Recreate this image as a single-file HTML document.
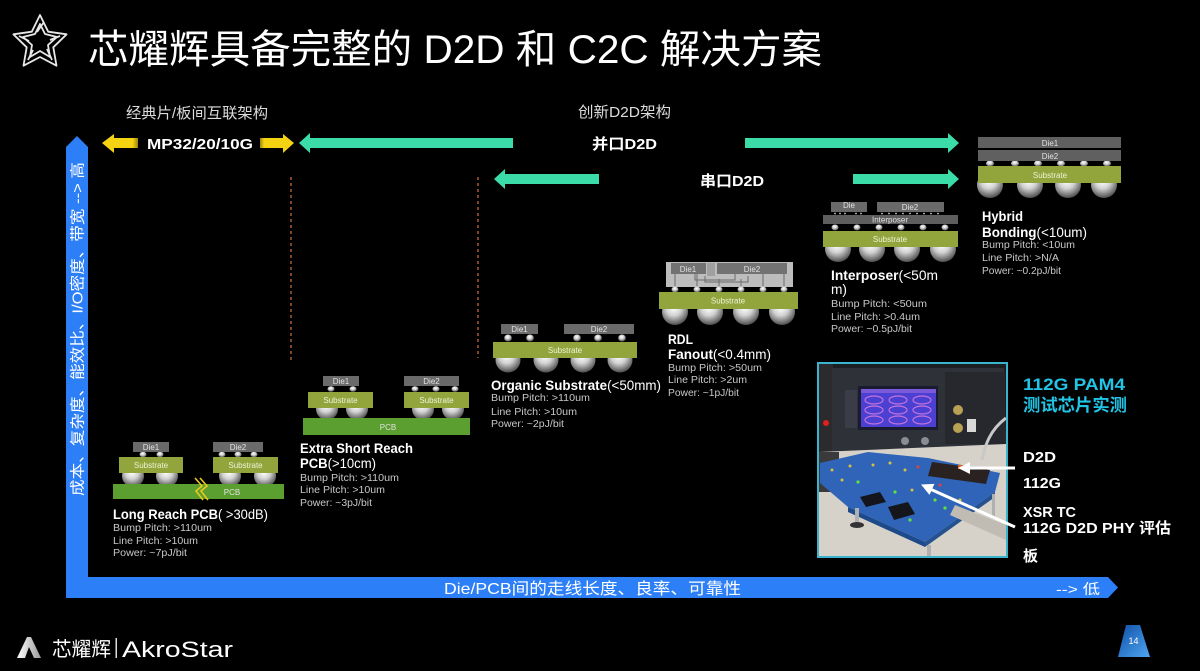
<!DOCTYPE html>
<html><head><meta charset="utf-8">
<style>
html,body{margin:0;padding:0;background:#000;}
svg{display:block;}
text{font-family:"Liberation Sans","Noto Sans CJK SC",sans-serif;}
.s{font-size:10px;fill:#c8c8c8;}
.b{font-size:14px;fill:#fff;font-weight:bold;}
.n{font-weight:normal;}
.dl{font-size:8px;fill:#e2e2e2;text-anchor:middle;}
.sl{font-size:8px;fill:#eef2d6;text-anchor:middle;}
</style></head><body>
<svg width="1200" height="671" viewBox="0 0 1200 671" xmlns="http://www.w3.org/2000/svg">
<defs>
<radialGradient id="ball" cx="0.45" cy="0.35" r="0.65">
<stop offset="0" stop-color="#ffffff"/><stop offset="0.45" stop-color="#d2d2d2"/><stop offset="1" stop-color="#4e4e4e"/>
</radialGradient>
<linearGradient id="pg" x1="0" y1="0" x2="1" y2="1">
<stop offset="0" stop-color="#0f4fa8"/><stop offset="1" stop-color="#4fa6f0"/>
</linearGradient>
<linearGradient id="lg" x1="0" y1="0" x2="1" y2="0">
<stop offset="0" stop-color="#ffffff"/><stop offset="1" stop-color="#9a9a9a"/>
</linearGradient>
<linearGradient id="yl" x1="0" y1="0" x2="1" y2="0">
<stop offset="0" stop-color="#f5d312"/><stop offset="0.85" stop-color="#f5d312"/><stop offset="1" stop-color="#9a8410"/>
</linearGradient>
<linearGradient id="yr" x1="0" y1="0" x2="1" y2="0">
<stop offset="0" stop-color="#9a8410"/><stop offset="0.12" stop-color="#f5d312"/><stop offset="1" stop-color="#f5d312"/>
</linearGradient>
<clipPath id="ph"><rect x="819" y="364" width="187" height="192"/></clipPath>
</defs>
<rect width="1200" height="671" fill="#000"/>

<!-- star logo -->
<g fill="none" stroke="#e8e8e8" stroke-width="1.8" stroke-linejoin="round">
<path d="M40,15 L48.2,31.7 L66.6,34.3 L53.3,47.3 L56.5,65.7 L40,57 L23.5,65.7 L26.7,47.3 L13.4,34.3 L31.8,31.7 Z"/>
<path d="M40,24 L45,34 L57,37 L48,45 L50,57 L40,51 L30,57 L32,45 L23,37 L35,34 Z"/>
<line x1="44" y1="22" x2="37" y2="32"/><line x1="60" y1="36" x2="50" y2="40"/><line x1="52" y1="60" x2="47" y2="49"/><line x1="28" y1="60" x2="33" y2="50"/><line x1="19" y1="36" x2="29" y2="41"/>
</g>

<!-- title -->
<text x="88" y="63" font-size="40" fill="#fff" textLength="734" lengthAdjust="spacingAndGlyphs">芯耀辉具备完整的 D2D 和 C2C 解决方案</text>

<!-- top labels -->
<text x="126" y="118" font-size="15" fill="#dcdcdc" textLength="142" lengthAdjust="spacingAndGlyphs">经典片/板间互联架构</text>
<text x="578" y="117" font-size="15" fill="#dcdcdc" textLength="93" lengthAdjust="spacingAndGlyphs">创新D2D架构</text>

<!-- arrows -->
<polygon points="102,143 114,134 114,138 138,138 138,148 114,148 114,153" fill="url(#yl)"/>
<polygon points="260,138 283,138 283,134 294,143 283,153 283,148 260,148" fill="url(#yr)"/>
<text x="147" y="149" font-size="15" font-weight="bold" fill="#fff" textLength="106" lengthAdjust="spacingAndGlyphs">MP32/20/10G</text>
<polygon points="299,143 310,133 310,138 513,138 513,148 310,148 310,153" fill="#3cdca8"/>
<text x="592" y="149" font-size="15" font-weight="bold" fill="#fff" textLength="65" lengthAdjust="spacingAndGlyphs">并口D2D</text>
<polygon points="745,138 948,138 948,133 959,143 948,153 948,148 745,148" fill="#3cdca8"/>
<polygon points="494,179 505,169 505,174 599,174 599,184 505,184 505,189" fill="#3cdca8"/>
<text x="700" y="186" font-size="15" font-weight="bold" fill="#fff" textLength="64" lengthAdjust="spacingAndGlyphs">串口D2D</text>
<polygon points="853,174 948,174 948,169 959,179 948,189 948,184 853,184" fill="#3cdca8"/>

<!-- dashed lines -->
<line x1="291" y1="177" x2="291" y2="360" stroke="#d0703e" stroke-width="1.2" stroke-dasharray="3,3"/>
<line x1="478" y1="177" x2="478" y2="358" stroke="#d0703e" stroke-width="1.2" stroke-dasharray="3,3"/>

<!-- axes -->
<path d="M66,147 L77,136 L88,147 L88,577 L1108,577 L1118,587.5 L1108,598 L66,598 Z" fill="#2d7ff7"/>
<text transform="translate(82.5,496) rotate(-90)" font-size="15" fill="#fff" textLength="334" lengthAdjust="spacingAndGlyphs">成本、复杂度、能效比、I/O密度、带宽 --&gt; 高</text>
<text x="444" y="594" font-size="16" fill="#fff" textLength="297" lengthAdjust="spacingAndGlyphs">Die/PCB间的走线长度、良率、可靠性</text>
<text x="1056" y="594" font-size="14" fill="#fff" textLength="44" lengthAdjust="spacingAndGlyphs">--&gt; 低</text>

<!-- Long Reach PCB -->
<g>
<circle cx="133" cy="476" r="11" fill="url(#ball)"/><circle cx="167" cy="476" r="11" fill="url(#ball)"/>
<circle cx="230" cy="476" r="11" fill="url(#ball)"/><circle cx="265" cy="476" r="11" fill="url(#ball)"/>
<g fill="url(#ball)"><ellipse cx="143" cy="454.5" rx="3.5" ry="2.8"/><ellipse cx="160" cy="454.5" rx="3.5" ry="2.8"/>
<ellipse cx="222" cy="454.5" rx="3.5" ry="2.8"/><ellipse cx="238" cy="454.5" rx="3.5" ry="2.8"/><ellipse cx="254" cy="454.5" rx="3.5" ry="2.8"/></g>
<rect x="119" y="457" width="64" height="16" fill="#91a53c"/><text class="sl" x="151" y="468">Substrate</text>
<rect x="213" y="457" width="65" height="16" fill="#91a53c"/><text class="sl" x="245.5" y="468">Substrate</text>
<rect x="133" y="442" width="36" height="10" fill="#6a6a6a"/><text class="dl" x="151" y="450">Die1</text>
<rect x="213" y="442" width="50" height="10" fill="#6a6a6a"/><text class="dl" x="238" y="450">Die2</text>
<rect x="113" y="484" width="171" height="15" fill="#5a9f2f"/><text class="dl" x="232" y="495" font-size="7">PCB</text>
<path d="M195,478 L202,486 L196,491 L203,500 M200,478 L207,486 L201,491 L208,500" fill="none" stroke="#e8c820" stroke-width="1.6"/>
</g>
<text class="b" x="113" y="519" textLength="155" lengthAdjust="spacingAndGlyphs">Long Reach PCB<tspan class="n">( &gt;30dB)</tspan></text>
<text class="s" x="113" y="531" textLength="99" lengthAdjust="spacingAndGlyphs">Bump Pitch: &gt;110um</text>
<text class="s" x="113" y="544" textLength="85" lengthAdjust="spacingAndGlyphs">Line Pitch: &gt;10um</text>
<text class="s" x="113" y="556" textLength="74" lengthAdjust="spacingAndGlyphs">Power: ~7pJ/bit</text>

<!-- Extra Short Reach -->
<g>
<circle cx="327" cy="409" r="11" fill="url(#ball)"/><circle cx="357" cy="409" r="11" fill="url(#ball)"/>
<circle cx="423" cy="409" r="11" fill="url(#ball)"/><circle cx="453" cy="409" r="11" fill="url(#ball)"/>
<g fill="url(#ball)"><ellipse cx="331" cy="389" rx="3.5" ry="2.8"/><ellipse cx="353" cy="389" rx="3.5" ry="2.8"/>
<ellipse cx="415" cy="389" rx="3.5" ry="2.8"/><ellipse cx="436" cy="389" rx="3.5" ry="2.8"/><ellipse cx="455" cy="389" rx="3.5" ry="2.8"/></g>
<rect x="308" y="392" width="65" height="16" fill="#91a53c"/><text class="sl" x="340.5" y="403">Substrate</text>
<rect x="404" y="392" width="65" height="16" fill="#91a53c"/><text class="sl" x="436.5" y="403">Substrate</text>
<rect x="323" y="376" width="36" height="10" fill="#6a6a6a"/><text class="dl" x="341" y="384">Die1</text>
<rect x="404" y="376" width="55" height="10" fill="#6a6a6a"/><text class="dl" x="431.5" y="384">Die2</text>
<rect x="303" y="418" width="167" height="17" fill="#5a9f2f"/><text class="dl" x="388" y="430" font-size="7">PCB</text>
</g>
<text class="b" x="300" y="453" textLength="113" lengthAdjust="spacingAndGlyphs">Extra Short Reach</text>
<text class="b" x="300" y="468" textLength="76" lengthAdjust="spacingAndGlyphs">PCB<tspan class="n">(&gt;10cm)</tspan></text>
<text class="s" x="300" y="481" textLength="99" lengthAdjust="spacingAndGlyphs">Bump Pitch: &gt;110um</text>
<text class="s" x="300" y="493" textLength="85" lengthAdjust="spacingAndGlyphs">Line Pitch: &gt;10um</text>
<text class="s" x="300" y="506" textLength="72" lengthAdjust="spacingAndGlyphs">Power: ~3pJ/bit</text>

<!-- Organic Substrate -->
<g>
<circle cx="508" cy="360" r="12.5" fill="url(#ball)"/><circle cx="546" cy="360" r="12.5" fill="url(#ball)"/>
<circle cx="583" cy="360" r="12.5" fill="url(#ball)"/><circle cx="620" cy="360" r="12.5" fill="url(#ball)"/>
<g fill="url(#ball)"><ellipse cx="508" cy="338" rx="3.8" ry="3.5"/><ellipse cx="530" cy="338" rx="3.8" ry="3.5"/>
<ellipse cx="577" cy="338" rx="3.8" ry="3.5"/><ellipse cx="598" cy="338" rx="3.8" ry="3.5"/><ellipse cx="622" cy="338" rx="3.8" ry="3.5"/></g>
<rect x="493" y="342" width="144" height="16" fill="#91a53c"/><text class="sl" x="565" y="353">Substrate</text>
<rect x="501" y="324" width="37" height="10" fill="#6a6a6a"/><text class="dl" x="519.5" y="332">Die1</text>
<rect x="564" y="324" width="70" height="10" fill="#6a6a6a"/><text class="dl" x="599" y="332">Die2</text>
</g>
<text class="b" x="491" y="390" textLength="170" lengthAdjust="spacingAndGlyphs">Organic Substrate<tspan class="n">(&lt;50mm)</tspan></text>
<text class="s" x="491" y="401" textLength="99" lengthAdjust="spacingAndGlyphs">Bump Pitch: &gt;110um</text>
<text class="s" x="491" y="415" textLength="86" lengthAdjust="spacingAndGlyphs">Line Pitch: &gt;10um</text>
<text class="s" x="491" y="427" textLength="73" lengthAdjust="spacingAndGlyphs">Power: ~2pJ/bit</text>

<!-- RDL Fanout -->
<g>
<circle cx="675" cy="312" r="13" fill="url(#ball)"/><circle cx="710" cy="312" r="13" fill="url(#ball)"/>
<circle cx="746" cy="312" r="13" fill="url(#ball)"/><circle cx="782" cy="312" r="13" fill="url(#ball)"/>
<g fill="url(#ball)"><ellipse cx="675" cy="289.5" rx="3.5" ry="3"/><ellipse cx="697" cy="289.5" rx="3.5" ry="3"/><ellipse cx="719" cy="289.5" rx="3.5" ry="3"/>
<ellipse cx="741" cy="289.5" rx="3.5" ry="3"/><ellipse cx="763" cy="289.5" rx="3.5" ry="3"/><ellipse cx="784" cy="289.5" rx="3.5" ry="3"/></g>
<rect x="659" y="292" width="139" height="17" fill="#91a53c"/><text class="sl" x="728" y="303.5">Substrate</text>
<rect x="666" y="262" width="127" height="25" fill="#bdbdbd"/>
<rect x="671" y="263" width="35" height="11" fill="#727272"/>
<rect x="717" y="263" width="70" height="11" fill="#727272"/>
<rect x="707" y="263" width="8" height="13" fill="#a0a0a0"/>
<g stroke="#6a6a6a" stroke-width="1" fill="none">
<path d="M675,274 V286 M697,274 V286 M719,279 V286 M741,279 V286 M763,274 V286 M784,274 V286"/>
<path d="M695,274 V280 H735 V274 M705,276 V282 H748 V276"/>
</g>
<text class="dl" x="688" y="272">Die1</text><text class="dl" x="752" y="272">Die2</text>
</g>
<text class="b" x="668" y="344" textLength="25" lengthAdjust="spacingAndGlyphs">RDL</text>
<text class="b" x="668" y="359" textLength="103" lengthAdjust="spacingAndGlyphs">Fanout<tspan class="n">(&lt;0.4mm)</tspan></text>
<text class="s" x="668" y="371" textLength="94" lengthAdjust="spacingAndGlyphs">Bump Pitch: &gt;50um</text>
<text class="s" x="668" y="383" textLength="79" lengthAdjust="spacingAndGlyphs">Line Pitch: &gt;2um</text>
<text class="s" x="668" y="396" textLength="71" lengthAdjust="spacingAndGlyphs">Power: ~1pJ/bit</text>

<!-- Interposer -->
<g>
<circle cx="838" cy="249" r="13" fill="url(#ball)"/><circle cx="872" cy="249" r="13" fill="url(#ball)"/>
<circle cx="907" cy="249" r="13" fill="url(#ball)"/><circle cx="943" cy="249" r="13" fill="url(#ball)"/>
<g fill="url(#ball)"><ellipse cx="835" cy="227.5" rx="3.5" ry="3"/><ellipse cx="857" cy="227.5" rx="3.5" ry="3"/><ellipse cx="879" cy="227.5" rx="3.5" ry="3"/>
<ellipse cx="901" cy="227.5" rx="3.5" ry="3"/><ellipse cx="923" cy="227.5" rx="3.5" ry="3"/><ellipse cx="945" cy="227.5" rx="3.5" ry="3"/></g>
<rect x="823" y="231" width="135" height="16" fill="#91a53c"/><text class="sl" x="890" y="242">Substrate</text>
<rect x="823" y="215" width="135" height="9" fill="#5e5e5e"/><text class="dl" x="890" y="222.5" font-size="7.5">Interposer</text>
<rect x="831" y="202" width="36" height="10" fill="#6a6a6a"/><text class="dl" x="849" y="208" font-size="7">Die</text>
<rect x="877" y="202" width="67" height="10" fill="#6a6a6a"/><text class="dl" x="910" y="210">Die2</text>
<g fill="#cfcfcf"><circle cx="835" cy="213.5" r="0.9"/><circle cx="840" cy="213.5" r="0.9"/><circle cx="845" cy="213.5" r="0.9"/><circle cx="856" cy="213.5" r="0.9"/><circle cx="861" cy="213.5" r="0.9"/>
<circle cx="882" cy="213.5" r="0.9"/><circle cx="889" cy="213.5" r="0.9"/><circle cx="896" cy="213.5" r="0.9"/><circle cx="903" cy="213.5" r="0.9"/><circle cx="910" cy="213.5" r="0.9"/><circle cx="917" cy="213.5" r="0.9"/><circle cx="924" cy="213.5" r="0.9"/><circle cx="931" cy="213.5" r="0.9"/><circle cx="938" cy="213.5" r="0.9"/></g>
</g>
<text class="b" x="831" y="280" textLength="107" lengthAdjust="spacingAndGlyphs">Interposer<tspan class="n">(&lt;50m</tspan></text>
<text x="831" y="294" font-size="14" fill="#fff" textLength="16" lengthAdjust="spacingAndGlyphs">m)</text>
<text class="s" x="831" y="307" textLength="96" lengthAdjust="spacingAndGlyphs">Bump Pitch: &lt;50um</text>
<text class="s" x="831" y="320" textLength="89" lengthAdjust="spacingAndGlyphs">Line Pitch: &gt;0.4um</text>
<text class="s" x="831" y="332" textLength="81" lengthAdjust="spacingAndGlyphs">Power: ~0.5pJ/bit</text>

<!-- Hybrid Bonding -->
<g>
<circle cx="990" cy="185" r="13" fill="url(#ball)"/><circle cx="1030" cy="185" r="13" fill="url(#ball)"/>
<circle cx="1068" cy="185" r="13" fill="url(#ball)"/><circle cx="1104" cy="185" r="13" fill="url(#ball)"/>
<g fill="url(#ball)"><ellipse cx="990" cy="163.5" rx="4" ry="3"/><ellipse cx="1015" cy="163.5" rx="4" ry="3"/><ellipse cx="1038" cy="163.5" rx="4" ry="3"/>
<ellipse cx="1061" cy="163.5" rx="4" ry="3"/><ellipse cx="1084" cy="163.5" rx="4" ry="3"/><ellipse cx="1107" cy="163.5" rx="4" ry="3"/></g>
<rect x="978" y="166" width="143" height="17" fill="#91a53c"/><text class="sl" x="1050" y="178" font-size="9">Substrate</text>
<rect x="978" y="150" width="143" height="11" fill="#606060"/><text class="dl" x="1050" y="159" font-size="9">Die2</text>
<rect x="978" y="137" width="143" height="11" fill="#606060"/><text class="dl" x="1050" y="146" font-size="9">Die1</text>
</g>
<text class="b" x="982" y="221" textLength="41" lengthAdjust="spacingAndGlyphs">Hybrid</text>
<text class="b" x="982" y="237" textLength="105" lengthAdjust="spacingAndGlyphs">Bonding<tspan class="n">(&lt;10um)</tspan></text>
<text class="s" x="982" y="248" textLength="93" lengthAdjust="spacingAndGlyphs">Bump Pitch: &lt;10um</text>
<text class="s" x="982" y="261" textLength="77" lengthAdjust="spacingAndGlyphs">Line Pitch: &gt;N/A</text>
<text class="s" x="982" y="274" textLength="79" lengthAdjust="spacingAndGlyphs">Power: ~0.2pJ/bit</text>

<!-- photo -->
<g clip-path="url(#ph)">
<rect x="819" y="364" width="187" height="192" fill="#1d1e22"/>
<rect x="819" y="364" width="14" height="90" fill="#2b2b2d"/>
<polygon points="832,368 1004,368 1006,446 832,452" fill="#2f3138"/>
<rect x="945" y="372" width="60" height="72" fill="#26282e"/>
<rect x="858" y="386" width="80" height="44" fill="#1a1a30"/>
<rect x="861" y="389" width="75" height="38" fill="#4b40d2"/>
<rect x="861" y="389" width="75" height="4" fill="#7a5ad8"/>
<g fill="none" stroke="#e080e0" stroke-width="1.2" opacity="0.8">
<ellipse cx="874" cy="400" rx="9" ry="4"/><ellipse cx="898" cy="400" rx="9" ry="4"/><ellipse cx="922" cy="400" rx="9" ry="4"/>
<ellipse cx="874" cy="410" rx="9" ry="4"/><ellipse cx="898" cy="410" rx="9" ry="4"/><ellipse cx="922" cy="410" rx="9" ry="4"/>
<ellipse cx="874" cy="420" rx="9" ry="4"/><ellipse cx="898" cy="420" rx="9" ry="4"/><ellipse cx="922" cy="420" rx="9" ry="4"/>
</g>
<rect x="845" y="390" width="12" height="38" fill="#3a3c48"/>
<circle cx="958" cy="410" r="5" fill="#b8a055"/><circle cx="958" cy="428" r="5" fill="#b8a055"/>
<rect x="967" y="419" width="9" height="13" fill="#d8d8d8"/>
<circle cx="905" cy="441" r="4" fill="#8a8c92"/><circle cx="925" cy="441" r="4" fill="#8a8c92"/>
<polygon points="819,452 1006,444 1006,556 819,556" fill="#d6d2ca"/>
<rect x="819" y="452" width="20" height="40" fill="#3a3a3c"/>
<path d="M1006,418 C990,430 985,445 982,460" stroke="#c8c8c8" stroke-width="3" fill="none"/>
<circle cx="826" cy="423" r="3" fill="#e02020"/>
<polygon points="820,463 868,452 928,458 1000,473 995,492 925,542 848,507 820,483" fill="#2f64b8"/>
<polygon points="848,507 925,542 925,547 848,512" fill="#1d4a8a"/>
<polygon points="925,542 995,492 995,497 925,547" fill="#24518f"/>
<polygon points="860,497 880,492 886,502 866,507" fill="#15151c"/>
<polygon points="888,507 908,502 915,514 894,520" fill="#15151c"/>
<polygon points="932,462 990,470 986,484 928,476" fill="#2a2220"/>
<rect x="958" y="465" width="8" height="4" fill="#e06020"/>
<g fill="#d8c040"><circle cx="832" cy="470" r="1.5"/><circle cx="850" cy="466" r="1.5"/><circle cx="873" cy="465" r="1.5"/><circle cx="890" cy="463" r="1.5"/><circle cx="905" cy="470" r="1.5"/><circle cx="842" cy="480" r="1.5"/><circle cx="912" cy="490" r="1.5"/><circle cx="960" cy="500" r="1.5"/></g>
<g fill="#60e040"><circle cx="858" cy="482" r="1.6"/><circle cx="895" cy="492" r="1.6"/><circle cx="935" cy="500" r="1.6"/><circle cx="945" cy="508" r="1.6"/><circle cx="910" cy="520" r="1.6"/></g>
<g fill="#e04040"><circle cx="918" cy="467" r="1.5"/><circle cx="940" cy="485" r="1.5"/></g>
<rect x="855" y="508" width="4" height="16" fill="#b0b0b0"/><ellipse cx="857" cy="525" rx="7" ry="3" fill="#333"/>
<rect x="927" y="545" width="4" height="12" fill="#b0b0b0"/>
<rect x="992" y="494" width="3" height="25" fill="#b0b0b0"/>
<polygon points="955,505 1006,525 1006,540 950,515" fill="#c0bcb4"/>
</g>
<rect x="818" y="363" width="189" height="194" fill="none" stroke="#3ab4cc" stroke-width="2"/>
<!-- white arrows -->
<line x1="1015" y1="468" x2="968" y2="468" stroke="#fff" stroke-width="3"/>
<polygon points="958,468 970,462 970,474" fill="#fff"/>
<line x1="1015" y1="527" x2="930" y2="489" stroke="#fff" stroke-width="3"/>
<polygon points="921,484.5 934.4,483.9 929.5,494.9" fill="#fff"/>

<!-- right texts -->
<text x="1023" y="390" font-size="17" font-weight="bold" fill="#22c4e6" textLength="102" lengthAdjust="spacingAndGlyphs">112G PAM4</text>
<text x="1023" y="411" font-size="17" font-weight="bold" fill="#22c4e6" textLength="104" lengthAdjust="spacingAndGlyphs">测试芯片实测</text>
<text x="1023" y="462" font-size="15" font-weight="bold" fill="#fff" textLength="33" lengthAdjust="spacingAndGlyphs">D2D</text>
<text x="1023" y="488" font-size="15" font-weight="bold" fill="#fff" textLength="38" lengthAdjust="spacingAndGlyphs">112G</text>
<text x="1023" y="517" font-size="15" font-weight="bold" fill="#fff" textLength="53" lengthAdjust="spacingAndGlyphs">XSR TC</text>
<text x="1023" y="533" font-size="15" font-weight="bold" fill="#fff" textLength="148" lengthAdjust="spacingAndGlyphs">112G D2D PHY 评估</text>
<text x="1023" y="561" font-size="15" font-weight="bold" fill="#fff">板</text>

<!-- bottom logo -->
<polygon points="17,658 27,637 31,637 41,658 34,658 29,647 25,658" fill="url(#lg)"/>
<text x="52" y="656" font-size="20" fill="#fff" textLength="59" lengthAdjust="spacingAndGlyphs">芯耀辉</text>
<rect x="115.5" y="638" width="1.5" height="20" fill="#ddd"/>
<text x="122" y="657" font-size="22" fill="#fff" textLength="111" lengthAdjust="spacingAndGlyphs">AkroStar</text>

<!-- page number -->
<polygon points="1126,625 1140,625 1150,657 1118,657" fill="url(#pg)"/>
<text x="1133.5" y="644" font-size="9" fill="#fff" text-anchor="middle">14</text>
</svg>
</body></html>
